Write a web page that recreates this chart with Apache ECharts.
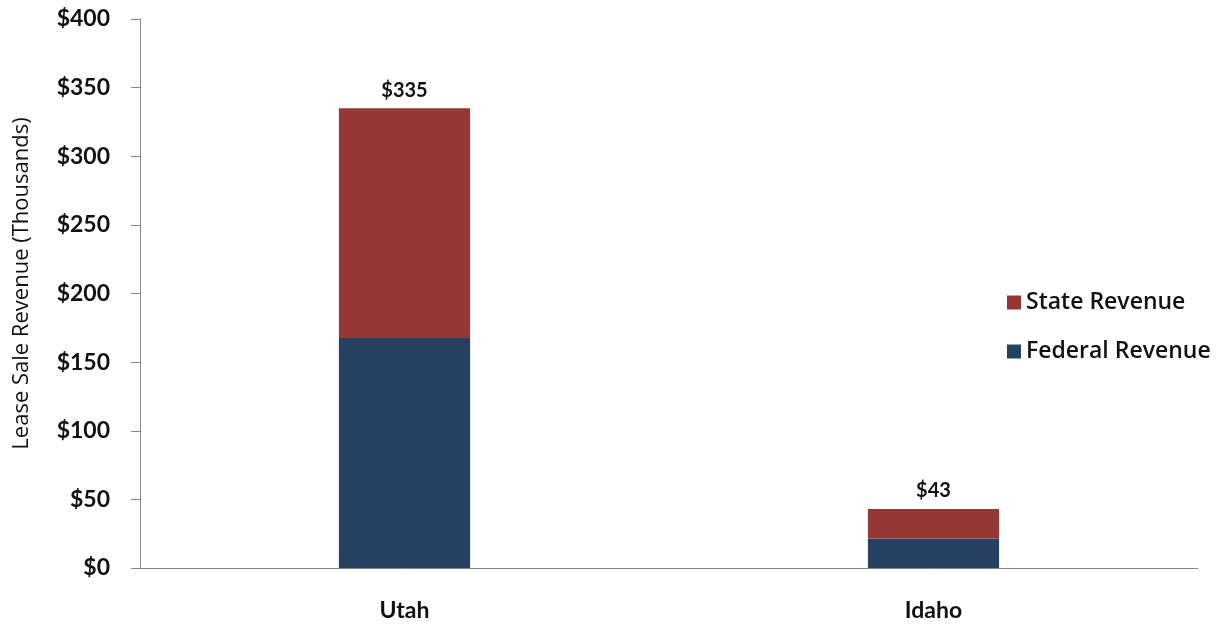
<!DOCTYPE html>
<html><head><meta charset="utf-8">
<script src="https://cdn.jsdelivr.net/npm/echarts@6/dist/echarts.min.js"></script>
<style>html,body{margin:0;padding:0;background:#fff}#c{width:1219px;height:624px}</style>
</head><body><div id="c"></div>
<script>
const categories = ['Utah', 'Idaho'];
const federalRevenue = [167.5, 21.5];
const stateRevenue = [167.5, 21.5];
const totalLabels = ['$335', '$43'];
const yTicks = [0, 50, 100, 150, 200, 250, 300, 350, 400];

const BOLD = 'Lato, "Open Sans", sans-serif';
const REG = '"Open Sans", Lato, sans-serif';
const chart = echarts.init(document.getElementById('c'));
chart.setOption({
  animation: false,
  backgroundColor: '#fff',
  grid: { left: 140, right: 21, top: 19, bottom: 56, outerBoundsMode: 'none', containLabel: false },
  legend: {
    orient: 'vertical', left: 1002, top: 286, itemGap: 26,
    itemWidth: 14, itemHeight: 14, icon: 'rect',
    textStyle: { fontFamily: REG, fontWeight: 600, fontSize: 23, color: '#111' },
    data: ['State Revenue', 'Federal Revenue']
  },
  xAxis: {
    type: 'category', data: categories,
    axisLine: { lineStyle: { color: '#888', width: 1 } },
    axisTick: { show: false },
    axisLabel: { margin: 31, fontFamily: BOLD, fontWeight: 'bold', fontSize: 23, color: '#111' }
  },
  yAxis: {
    type: 'value', min: yTicks[0], max: yTicks[yTicks.length - 1], interval: 50,
    name: 'Lease Sale Revenue (Thousands)', nameLocation: 'middle', nameGap: 107, nameRotate: 90,
    nameTextStyle: { fontFamily: REG, fontSize: 22, color: '#111', padding: [0, 0, 0, 20] },
    axisLine: { show: true, lineStyle: { color: '#888', width: 1 } },
    axisTick: { show: true, length: 9, lineStyle: { color: '#888' } },
    splitLine: { show: false },
    axisLabel: { margin: 30, fontFamily: BOLD, fontWeight: 'bold', fontSize: 23, color: '#111',
      formatter: v => '$' + v }
  },
  series: [
    { name: 'Federal Revenue', type: 'bar', stack: 'a', data: federalRevenue, barWidth: '24.8%',
      itemStyle: { color: '#254061' } },
    { name: 'State Revenue', type: 'bar', stack: 'a', data: stateRevenue, barWidth: '24.8%',
      itemStyle: { color: '#953735' },
      label: { show: true, position: 'top', distance: 8, fontFamily: BOLD, fontWeight: 'bold', fontSize: 20, color: '#111',
        formatter: p => totalLabels[p.dataIndex] } }
  ]
});
</script></body></html>
